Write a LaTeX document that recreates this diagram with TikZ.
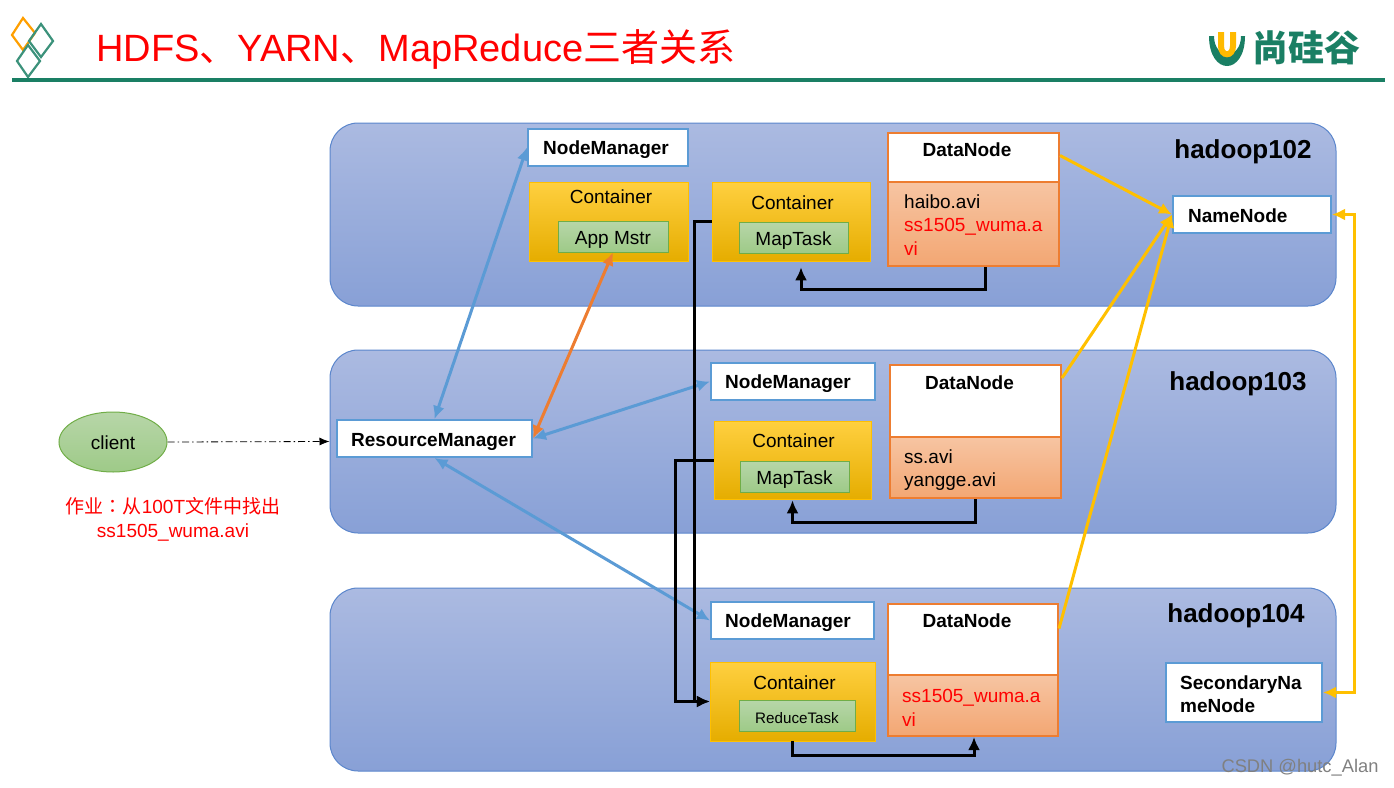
\documentclass[tikz,border=0pt]{standalone}
\usepackage{fontspec}
\setmainfont{Liberation Sans}
\newfontfamily\cjk{Noto Sans CJK SC}
\newfontfamily\cjktc{Noto Sans CJK TC}
\usetikzlibrary{shapes.geometric,arrows.meta}
\definecolor{groupTop}{HTML}{ABBAE1}
\definecolor{groupBot}{HTML}{88A0D6}
\definecolor{groupLine}{HTML}{5B86CC}
\definecolor{boxBlue}{HTML}{5B9BD5}
\definecolor{boxOrange}{HTML}{ED7D31}
\definecolor{arrowYellow}{HTML}{FFC000}
\definecolor{logoGreen}{HTML}{1A7F64}
\definecolor{greenTop}{HTML}{B7D6A8}
\definecolor{greenBot}{HTML}{9ECA88}
\definecolor{greenLine}{HTML}{70AD47}
\tikzset{
    bigtip/.tip={Latex[length=13pt,width=12pt]},
    groupbox/.style={draw=groupLine,line width=1pt,rounded corners=28pt,top color=groupTop,bottom color=groupBot,minimum width=1006pt,minimum height=183pt},
    hostlabel/.style={font=\fontsize{26}{30}\selectfont\bfseries},
    whitebox/.style={draw=boxBlue,line width=2pt,fill=white,inner sep=0pt},
    containerbox/.style={draw=arrowYellow,line width=.5pt,top color=arrowYellow!75!white,middle color=arrowYellow,bottom color=arrowYellow!90!black},
    taskbox/.style={draw=greenLine,line width=1pt,top color=greenTop,bottom color=greenBot,inner sep=0pt,text height=15pt,text depth=0pt,font=\fontsize{19}{23}\selectfont},
    datatop/.style={draw=boxOrange,line width=2pt,fill=white},
    databot/.style={draw=boxOrange,line width=2pt,top color=boxOrange!45!white,bottom color=boxOrange!68!white},
    plaintext/.style={font=\fontsize{19}{23.5}\selectfont,inner sep=0pt},
    boldtext/.style={font=\fontsize{19}{23.5}\selectfont\bfseries,inner sep=0pt},
    bluearrow/.style={bigtip-bigtip,draw=boxBlue,line width=3pt},
    blackarrow/.style={-bigtip,draw=black,line width=3pt},
    yellowarrow/.style={-bigtip,draw=arrowYellow,line width=3pt},
}
\begin{document}
\begin{tikzpicture}[x=1pt,y=-1pt]
    \useasboundingbox (0,0) rectangle (1394,787);
    % header
    \draw [line width=2.2pt,draw=orange!75!yellow] (23,18) -- (35,33) -- (23,50) -- (12,35) -- cycle;
    \draw [line width=2.2pt,draw=logoGreen!85!white] (41,24) -- (53,41) -- (41,57) -- (29,41) -- cycle;
    \draw [line width=2.2pt,draw=logoGreen!85!white] (28,45) -- (40,61) -- (28,77) -- (17,61) -- cycle;
    \node (title) at (96,49) [anchor=west,inner sep=0pt,text=red,font=\fontsize{38}{40}\selectfont] {HDFS{\cjk 、}YARN{\cjk 、}MapReduce{\cjk 三者关系}};
    \fill [logoGreen] (12,78) rectangle (1385,82);
    \fill [logoGreen] (1209,36) .. controls (1209,76) and (1245,76) .. (1245,36) -- (1241,36) .. controls (1241,60) and (1214,60) .. (1214,36) -- cycle;
    \draw [line width=6pt,draw=arrowYellow!90!orange] (1221,32) -- (1221,46) .. controls (1221,57) and (1233,57) .. (1233,46) -- (1233,32);
    \node (brand) at (1306,48) [inner sep=0pt,text=logoGreen,font=\fontsize{36}{38}\selectfont\cjk\bfseries] {尚硅谷};
    % hosts
    \node (H102) at (833,214.5) [groupbox] {};
    \node (H103) at (833,441.5) [groupbox] {};
    \node (H104) at (833,679.5) [groupbox] {};
    \node (L102) at (1243,152) [hostlabel] {hadoop102};
    \node (L103) at (1238,384) [hostlabel] {hadoop103};
    \node (L104) at (1236,616) [hostlabel] {hadoop104};
    % client
    \node (client) at (113,442) [ellipse,minimum width=108pt,minimum height=60pt,inner sep=0pt,draw=greenLine,line width=1pt,top color=greenTop,bottom color=greenBot,text height=15pt,text depth=0pt,font=\fontsize{19}{23}\selectfont] {client};
    \node (job) at (173,519.5) [align=center,inner sep=0pt,text=red,font=\fontsize{19}{24}\selectfont] {{\cjk 作业}{\cjktc ：}{\cjk 从}100T{\cjk 文件中找出}\\ss1505\_wuma.avi};
    \node (RM) at (434.5,438.5) [whitebox,minimum width=195pt,minimum height=37pt] {};
    \node (RMt) at (351,446) [boldtext,anchor=base west] {ResourceManager};
    % node managers
    \node (NM1) at (608,147.5) [whitebox,minimum width=160pt,minimum height=37pt] {};
    \node (NM2) at (793,381.5) [whitebox,minimum width=164pt,minimum height=37pt] {};
    \node (NM3) at (792.5,620.5) [whitebox,minimum width=163pt,minimum height=37pt] {};
    \node (NM1t) at (543,154) [boldtext,anchor=base west] {NodeManager};
    \node (NM2t) at (725,388) [boldtext,anchor=base west] {NodeManager};
    \node (NM3t) at (725,627.5) [boldtext,anchor=base west] {NodeManager};
    % containers
    \node (C1) at (608.5,221.5) [containerbox,minimum width=159pt,minimum height=79pt] {};
    \node (C2) at (791,221.5) [containerbox,minimum width=158pt,minimum height=79pt] {};
    \node (C3) at (792.5,460) [containerbox,minimum width=157pt,minimum height=78pt] {};
    \node (C4) at (792.5,701.5) [containerbox,minimum width=165pt,minimum height=79pt] {};
    \node (C1t) at (611,197) [plaintext] {Container};
    \node (C2t) at (792.5,203) [plaintext] {Container};
    \node (C3t) at (793.5,441) [plaintext] {Container};
    \node (C4t) at (794.5,683) [plaintext] {Container};
    \node (AM) at (613,236.5) [taskbox,minimum width=110pt,minimum height=31pt] {App Mstr};
    \node (MT1) at (793.5,237.5) [taskbox,minimum width=109pt,minimum height=31pt] {MapTask};
    \node (MT2) at (794.5,476.5) [taskbox,minimum width=109pt,minimum height=31pt] {MapTask};
    \node (RT) at (797,715.5) [taskbox,minimum width=116pt,minimum height=31pt,font=\fontsize{15.2}{18}\selectfont] {ReduceTask};
    % data nodes
    \node (DN1) at (973.5,157.5) [datatop,minimum width=171pt,minimum height=49pt] {};
    \node (DB1) at (973.5,224) [databot,minimum width=171pt,minimum height=84pt] {};
    \node (DN2) at (975.5,401) [datatop,minimum width=171pt,minimum height=72pt] {};
    \node (DB2) at (975.5,467.5) [databot,minimum width=171pt,minimum height=61pt] {};
    \node (DN3) at (973,639.5) [datatop,minimum width=170pt,minimum height=71pt] {};
    \node (DB3) at (973,705.5) [databot,minimum width=170pt,minimum height=61pt] {};
    \node (DN1t) at (967,150) [boldtext] {DataNode};
    \node (DN2t) at (969.5,383) [boldtext] {DataNode};
    \node (DN3t) at (967,621) [boldtext] {DataNode};
    \node (F1) at (904,225) [plaintext,anchor=west,align=left] {haibo.avi\\\textcolor{red}{ss1505\_wuma.a}\\\textcolor{red}{vi}};
    \node (F2) at (904,470) [plaintext,anchor=west,align=left] {ss.avi\\yangge.avi};
    \node (F3) at (902,708) [plaintext,anchor=west,align=left,text=red] {ss1505\_wuma.a\\vi};
    % name nodes
    \node (NN) at (1252,214.5) [whitebox,minimum width=158pt,minimum height=37pt] {};
    \node (NNt) at (1188,216) [boldtext,anchor=west] {NameNode};
    \node (SNN) at (1244,692.5) [whitebox,minimum width=156pt,minimum height=59pt] {};
    \node (SNNt) at (1180,694) [boldtext,anchor=west,align=left] {SecondaryNa\\meNode};
    % arrows
    \draw [-{Latex[length=10pt,width=8pt]},dash pattern=on 7pt off 3pt on 1.5pt off 3pt,line width=.8pt] (client.east) -- (H103.west);
    \draw [bluearrow] (RM.north) -- (NM1.west);
    \draw [bluearrow] (RM.east) -- (NM2.west);
    \draw [bluearrow] (RM.south) -- (NM3.west);
    \draw [bigtip-bigtip,draw=boxOrange,line width=3pt] (RM.east) -- (AM.south);
    \draw [blackarrow] (C2.west) --++ (-17,0) |- (C4.west);
    \draw [blackarrow] (C3.west) --++ (-38,0) |- (C4.west);
    \draw [blackarrow] ([xshift=11.5pt]DB1.south) --++ (0,22) -| ([xshift=10pt,yshift=-6pt]C2.south);
    \draw [blackarrow] ([xshift=-0.5pt]DB2.south) --++ (0,23) -| ([yshift=-1pt]C3.south);
    \draw [blackarrow] (C4.south) --++ (0,14) -| ([xshift=1pt]DB3.south);
    \draw [yellowarrow] ([yshift=2pt]DN1.east) -- (NN.west);
    \draw [yellowarrow] ([yshift=23pt]DN2.east) -- (NN.west);
    \draw [yellowarrow] ([yshift=11pt]DN3.east) -- (NN.west);
    \draw [bigtip-bigtip,draw=arrowYellow,line width=3pt] (NN.east) -- (1354,214.5) -- (1354,692.5) -- (SNN.east);
    % watermark
    \node (mark) at (1300,768) [inner sep=0pt,text=gray,font=\fontsize{18.3}{20}\selectfont] {CSDN @hutc\_Alan};
\end{tikzpicture}
\end{document}
